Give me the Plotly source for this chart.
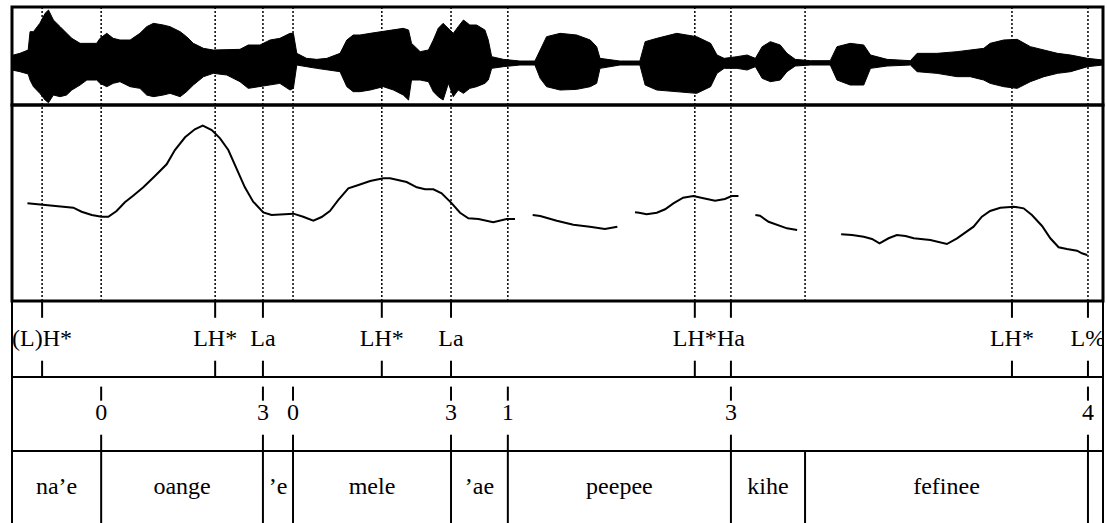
import plotly.graph_objects as go

# ---- annotation tiers (times in seconds) ----
DURATION = 2.9

tone_times = [0.080, 0.540, 0.667, 0.983, 1.167, 1.815, 1.911, 2.658, 2.860]
tone_labels = ["(L)H*", "LH*", "La", "LH*", "La", "LH*", "Ha", "LH*", "L%"]

break_times = [0.237, 0.667, 0.747, 1.167, 1.318, 1.911, 2.860]
break_labels = ["0", "3", "0", "3", "1", "3", "4"]

word_edges = [0.0, 0.237, 0.667, 0.747, 1.167, 1.318, 1.911, 2.108, 2.860, 2.9]
word_labels = ["na’e", "oange", "’e", "mele", "’ae", "peepee", "kihe", "fefinee", ""]

# ---- F0 contour (Hz); None marks unvoiced stretches ----
pitch_time = [
    0.041, 0.081, 0.119, 0.163, 0.185, 0.212, 0.238, 0.256, 0.278, 0.300,
    0.322, 0.349, 0.380, 0.411, 0.433, 0.460, 0.486, 0.507, 0.531, 0.553,
    0.575, 0.597, 0.619, 0.641, 0.668, 0.690, 0.721, 0.748, 0.774, 0.801,
    0.823, 0.845, 0.867, 0.894, 0.921, 0.952, 0.987, 1.005, 1.049, 1.076,
    1.098, 1.120, 1.142, 1.169, 1.191, 1.213, 1.240, 1.279, 1.315, 1.337,
    None,
    1.384, 1.404, 1.448, 1.492, 1.536, 1.576, 1.609,
    None,
    1.656, 1.667, 1.687, 1.714, 1.736, 1.758, 1.784, 1.811, 1.838, 1.869,
    1.895, 1.913, 1.931,
    None,
    1.976, 1.988, 2.011, 2.038, 2.060, 2.087,
    None,
    2.204, 2.233, 2.264, 2.286, 2.306, 2.330, 2.352, 2.375, 2.397, 2.441,
    2.485, 2.512, 2.556, 2.578, 2.600, 2.627, 2.663, 2.689, 2.711, 2.738,
    2.760, 2.782, 2.804, 2.831, 2.844, 2.858,
]
pitch_hz = [
    224.6, 222.8, 221.6, 219.0, 213.9, 209.7, 207.5, 207.5, 214.8, 225.9,
    234.3, 245.0, 259.4, 274.4, 292.6, 308.8, 319.0, 323.6, 318.1, 307.5,
    292.6, 269.3, 245.0, 226.7, 213.1, 209.7, 210.6, 211.4, 207.5, 202.4,
    207.1, 214.8, 228.8, 243.8, 248.0, 253.1, 256.5, 256.5, 251.8, 245.0,
    242.5, 242.5, 237.4, 224.6, 212.6, 205.5, 204.6, 200.4, 204.6, 204.6,
    None,
    209.7, 208.4, 202.4, 197.3, 194.8, 191.8, 194.8,
    None,
    213.1, 212.6, 210.6, 212.6, 217.0, 224.6, 231.8, 233.9, 231.0, 227.9,
    230.1, 233.9, 233.9,
    None,
    209.7, 208.8, 201.1, 196.0, 192.7, 190.6,
    None,
    185.1, 184.2, 182.0, 179.1, 173.6, 180.0, 184.2, 182.9, 180.0, 177.8,
    172.7, 180.0, 194.8, 207.5, 214.8, 219.0, 220.3, 218.2, 209.7, 195.7,
    180.0, 168.5, 166.3, 164.2, 160.8, 158.7,
]

# ---- waveform amplitude envelope (upper / lower extremes) ----
env_time = [
    0.000, 0.004, 0.021, 0.043, 0.048, 0.057, 0.074, 0.088, 0.097, 0.110,
    0.128, 0.145, 0.159, 0.181, 0.199, 0.225, 0.234, 0.252, 0.269, 0.287,
    0.314, 0.340, 0.358, 0.376, 0.402, 0.420, 0.447, 0.464, 0.482, 0.509,
    0.535, 0.571, 0.606, 0.628, 0.659, 0.686, 0.712, 0.739, 0.748, 0.757,
    0.783, 0.810, 0.837, 0.872, 0.890, 0.907, 0.925, 0.952, 0.987, 1.014,
    1.040, 1.054, 1.062, 1.085, 1.107, 1.120, 1.133, 1.146, 1.160, 1.173,
    1.186, 1.200, 1.217, 1.235, 1.257, 1.266, 1.275, 1.306, 1.350, 1.390,
    1.404, 1.421, 1.457, 1.501, 1.537, 1.554, 1.563, 1.616, 1.669, 1.683,
    1.714, 1.767, 1.820, 1.857, 1.874, 1.893, 1.927, 1.954, 1.976, 1.994,
    2.016, 2.042, 2.060, 2.082, 2.122, 2.175, 2.193, 2.228, 2.264, 2.282,
    2.326, 2.388, 2.406, 2.459, 2.512, 2.547, 2.583, 2.600, 2.636, 2.672,
    2.707, 2.743, 2.779, 2.814, 2.859, 2.900,
]
env_top = [
    0.130, 0.130, 0.163, 0.230, 0.597, 0.597, 0.763, 0.963, 1.030, 0.830,
    0.697, 0.563, 0.463, 0.363, 0.363, 0.363, 0.463, 0.563, 0.463, 0.430,
    0.430, 0.563, 0.697, 0.763, 0.730, 0.697, 0.597, 0.497, 0.363, 0.263,
    0.230, 0.230, 0.243, 0.330, 0.330, 0.430, 0.463, 0.563, 0.563, 0.163,
    0.063, 0.043, 0.063, 0.163, 0.430, 0.530, 0.530, 0.563, 0.597, 0.630,
    0.663, 0.630, 0.363, 0.197, 0.230, 0.430, 0.663, 0.763, 0.663, 0.563,
    0.697, 0.830, 0.730, 0.730, 0.630, 0.430, 0.097, 0.043, 0.010, 0.010,
    0.230, 0.497, 0.563, 0.530, 0.430, 0.297, 0.063, 0.010, 0.010, 0.397,
    0.463, 0.563, 0.497, 0.363, 0.130, 0.063, 0.097, 0.130, 0.063, 0.297,
    0.397, 0.330, 0.163, 0.043, 0.017, 0.017, 0.297, 0.363, 0.330, 0.130,
    0.043, 0.017, 0.163, 0.163, 0.197, 0.230, 0.263, 0.363, 0.430, 0.443,
    0.297, 0.230, 0.163, 0.130, 0.063, 0.030,
]
env_bot = [
    -0.170, -0.170, -0.203, -0.250, -0.370, -0.503, -0.637, -0.770, -0.823, -0.670,
    -0.703, -0.670, -0.570, -0.470, -0.370, -0.370, -0.437, -0.503, -0.437, -0.403,
    -0.503, -0.537, -0.670, -0.703, -0.670, -0.637, -0.703, -0.603, -0.470, -0.303,
    -0.237, -0.270, -0.403, -0.537, -0.503, -0.470, -0.437, -0.570, -0.537, -0.070,
    -0.103, -0.137, -0.170, -0.203, -0.503, -0.603, -0.603, -0.570, -0.503, -0.570,
    -0.670, -0.770, -0.370, -0.370, -0.403, -0.603, -0.703, -0.770, -0.437, -0.703,
    -0.570, -0.637, -0.537, -0.503, -0.437, -0.370, -0.137, -0.103, -0.070, -0.070,
    -0.337, -0.503, -0.570, -0.557, -0.503, -0.437, -0.137, -0.070, -0.070, -0.470,
    -0.570, -0.603, -0.637, -0.503, -0.237, -0.137, -0.137, -0.170, -0.103, -0.337,
    -0.403, -0.370, -0.203, -0.090, -0.070, -0.070, -0.370, -0.470, -0.470, -0.137,
    -0.090, -0.070, -0.203, -0.237, -0.303, -0.303, -0.370, -0.437, -0.503, -0.537,
    -0.403, -0.303, -0.237, -0.203, -0.103, -0.070,
]

FONT = dict(family="Liberation Serif, Times New Roman, serif", size=24, color="black")

# tier geometry in tier-axis units
TIER_TOP = 3.027
TONE_BOTTOM = 2.0
BREAK_BOTTOM = 1.0
TIER_FLOOR = 0.027

fig = go.Figure()

# waveform: filled envelope
fig.add_trace(go.Scatter(
    x=env_time + env_time[::-1],
    y=env_top + env_bot[::-1],
    fill="toself", fillcolor="black",
    line=dict(color="black", width=1),
    mode="lines", xaxis="x", yaxis="y", hoverinfo="skip",
))

# F0 contour
fig.add_trace(go.Scatter(
    x=pitch_time, y=pitch_hz, mode="lines",
    line=dict(color="black", width=2), connectgaps=False,
    xaxis="x", yaxis="y2", hoverinfo="skip",
))


def tick_segments(times, spans):
    xs, ys = [], []
    for t in times:
        for y0, y1 in spans:
            xs += [t, t, None]
            ys += [y0, y1, None]
    return xs, ys


# tone tier ticks (top and bottom of tier)
tx, ty = tick_segments(tone_times, [(TIER_TOP, 2.80), (2.22, TONE_BOTTOM)])
fig.add_trace(go.Scatter(x=tx, y=ty, mode="lines", line=dict(color="black", width=2),
                         xaxis="x", yaxis="y3", hoverinfo="skip"))

# break tier ticks
bx, by = tick_segments(break_times, [(1.87, 1.68), (1.22, BREAK_BOTTOM)])
fig.add_trace(go.Scatter(x=bx, y=by, mode="lines", line=dict(color="black", width=2),
                         xaxis="x", yaxis="y3", hoverinfo="skip"))

# word tier interval boundaries
wx, wy = tick_segments(word_edges[1:-1], [(BREAK_BOTTOM, -0.2)])
fig.add_trace(go.Scatter(x=wx, y=wy, mode="lines", line=dict(color="black", width=2),
                         xaxis="x", yaxis="y3", hoverinfo="skip"))

# tier labels
fig.add_trace(go.Scatter(
    x=tone_times, y=[2.5] * len(tone_times), text=tone_labels, mode="text",
    textfont=FONT, textposition="middle center", cliponaxis=True,
    xaxis="x", yaxis="y3", hoverinfo="skip",
))
fig.add_trace(go.Scatter(
    x=break_times, y=[1.5] * len(break_times), text=break_labels, mode="text",
    textfont=FONT, textposition="middle center", cliponaxis=True,
    xaxis="x", yaxis="y3", hoverinfo="skip",
))
word_mid = [(a + b) / 2 for a, b in zip(word_edges[:-1], word_edges[1:])]
fig.add_trace(go.Scatter(
    x=word_mid, y=[0.5] * len(word_mid), text=word_labels, mode="text",
    textfont=FONT, textposition="middle center", cliponaxis=True,
    xaxis="x", yaxis="y3", hoverinfo="skip",
))

WAVE_DOM = [0.7992, 0.9866]
PITCH_DOM = [0.4245, 0.7992]
TIER_DOM = [0.0, 0.4245]

shapes = []
# dotted guide lines through waveform and pitch panels
for t in sorted(set(tone_times + break_times + word_edges[1:-1])):
    shapes.append(dict(type="line", xref="x", yref="paper", x0=t, x1=t,
                       y0=PITCH_DOM[0], y1=WAVE_DOM[1], layer="below",
                       line=dict(color="black", width=1.5, dash="2px,2px")))
# panel frames
for yref in ("y domain", "y2 domain"):
    shapes.append(dict(type="rect", xref="x domain", yref=yref, x0=0, x1=1, y0=0, y1=1,
                       line=dict(color="black", width=3)))
# tier frame
for y in (TONE_BOTTOM, BREAK_BOTTOM):
    shapes.append(dict(type="line", xref="x domain", yref="y3", x0=0, x1=1, y0=y, y1=y,
                       line=dict(color="black", width=2)))
for x in (0, 1):
    shapes.append(dict(type="line", xref="x domain", yref="y3 domain", x0=x, x1=x, y0=0, y1=1,
                       line=dict(color="black", width=2)))

hidden = dict(visible=False, showgrid=False, zeroline=False, fixedrange=True)
fig.update_layout(
    width=1107, height=523,
    margin=dict(l=0, r=0, t=0, b=0),
    paper_bgcolor="white", plot_bgcolor="white",
    showlegend=False,
    xaxis=dict(domain=[0.01084, 0.99639], range=[0, DURATION], **hidden),
    yaxis=dict(domain=WAVE_DOM, range=[-0.87, 1.09], anchor="x", **hidden),
    yaxis2=dict(domain=PITCH_DOM, range=[100, 350], anchor="x", **hidden),
    yaxis3=dict(domain=TIER_DOM, range=[TIER_FLOOR, TIER_TOP], anchor="x", **hidden),
    shapes=shapes,
)

fig.write_html("out.html")
